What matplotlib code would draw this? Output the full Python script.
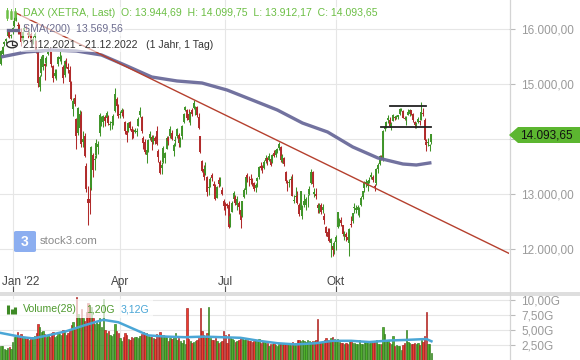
import numpy as np
import pandas as pd
import matplotlib
matplotlib.use("Agg")
import matplotlib.pyplot as plt
import matplotlib.transforms as mtransforms
from matplotlib.patches import Polygon, Rectangle, FancyBboxPatch, Circle
from matplotlib.lines import Line2D
from matplotlib.ticker import FuncFormatter, FixedLocator

plt.rcParams['font.family'] = ['Liberation Sans', 'DejaVu Sans']

# ---------------- data ----------------
dates = pd.bdate_range("2021-12-21", "2022-12-21")
dates = dates.drop(pd.to_datetime(["2021-12-24", "2021-12-31", "2022-04-15", "2022-04-18"]))

opens = [
    15367, 15540, 15725, 15790, 15870, 15960, 15870,
    15990, 16060, 16170, 16060, 16040, 15950, 15790, 15990, 16040, 15930, 15920, 15900, 15800, 15860, 15780, 15580, 14950, 15200, 15300, 15360, 15380,
    15550, 15640, 15560, 15330, 15150, 15190, 15360, 15460, 15420, 15300, 15160, 15400, 15300, 15260, 15030, 14550, 14750, 14360, 14100, 14200,
    14440, 13950, 14050, 13500, 12900, 12900, 13100, 13700, 13610, 13700, 13860, 14100, 14360, 14300, 14400, 14380, 14400, 14260, 14290, 14280, 14500, 14720, 14560,
    14440, 14470, 14490, 14300, 14140, 14150, 14300, 14180, 14140, 14120, 14120, 14240, 14430, 14400, 14020, 13950, 13700, 13820, 14020,
    14040, 13950, 14010, 14150, 13790, 13580, 13470, 13580, 13650, 13820, 14020, 14050, 14100, 13780, 13960, 14050, 14080, 13920, 14050, 14310, 14530, 14520,
    14450, 14300, 14520, 14560, 14540, 14580, 14400, 14050, 13600, 13450, 13380, 13300, 13100, 13150, 13350, 13180, 13100, 12930, 13250, 13200, 13080, 12870,
    12820, 12810, 12800, 12450, 12680, 12900, 12950, 12800, 12840, 12700, 12600, 12950, 13080, 13350, 13260, 13280, 13250, 13200, 13100, 13230, 13300,
    13500, 13450, 13480, 13600, 13650, 13620, 13640, 13580, 13750, 13700, 13780, 13830, 13860, 13600, 13650, 13400, 13200, 13200, 13260, 13280, 12870, 12950, 12960,
    12800, 12700, 12600, 12800, 12800, 12900, 13000, 13200, 13400, 13000, 13000, 12800, 12700, 12800, 12700, 12600, 12400, 12300, 12250, 12100, 12050, 12000,
    12120, 12400, 12500, 12520, 12430, 12250, 12270, 12220, 12100, 12450, 12500, 12750, 12700, 12700, 12720, 12800, 12950, 13100, 13200, 13150, 13240,
    13300, 13300, 13150, 13200, 13450, 13550, 13670, 13620, 14180, 14250, 14350, 14340, 14200, 14330, 14390, 14380, 14400, 14450, 14520, 14500, 14380, 14350,
    14440, 14450, 14520, 14450, 14310, 14250, 14300, 14330, 14350, 14480, 14350, 13950, 13920, 13880, 13944.69,
]
highs = [
    15620, 15690, 15780, 15840, 15995, 15990, 15915,
    16030, 16210, 16285, 16130, 16090, 16020, 15960, 16090, 16080, 15990, 15960, 15950, 15880, 15950, 15800, 15620, 15160, 15500, 15530, 15390, 15500,
    15660, 15680, 15600, 15340, 15280, 15280, 15500, 15600, 15530, 15350, 15430, 15470, 15380, 15320, 15060, 14750, 14810, 14380, 14590, 14520,
    14500, 14150, 14100, 13560, 13140, 13300, 13870, 13750, 13700, 14000, 13970, 14480, 14420, 14430, 14430, 14510, 14430, 14330, 14340, 14450, 14925, 14760, 14630,
    14510, 14560, 14550, 14330, 14180, 14310, 14330, 14240, 14180, 14200, 14200, 14400, 14590, 14420, 14060, 14000, 13860, 14000, 14150,
    14080, 14070, 14060, 14240, 13810, 13610, 13590, 13880, 13760, 14050, 14050, 14240, 14170, 13930, 14050, 14200, 14100, 14040, 14250, 14470, 14600, 14550,
    14550, 14490, 14560, 14700, 14600, 14600, 14480, 14060, 13610, 13530, 13580, 13330, 13200, 13300, 13390, 13230, 13190, 13150, 13300, 13300, 13130, 12910,
    12850, 12840, 12880, 12660, 12870, 13050, 12990, 12960, 12880, 12720, 12870, 13100, 13320, 13380, 13330, 13370, 13290, 13220, 13200, 13300, 13510,
    13590, 13520, 13620, 13700, 13680, 13740, 13660, 13730, 13800, 13810, 13840, 13948, 13870, 13720, 13670, 13420, 13250, 13270, 13330, 13370, 12980, 13120, 13050,
    12840, 13050, 12800, 13000, 12950, 13000, 13140, 13460, 13420, 13100, 13100, 12830, 12830, 12840, 12820, 12650, 12420, 12390, 12380, 12200, 12080, 12140,
    12250, 12680, 12560, 12590, 12440, 12330, 12300, 12280, 12380, 12600, 12660, 12830, 12800, 12800, 12770, 12960, 13060, 13240, 13280, 13260, 13300,
    13400, 13350, 13180, 13480, 13560, 13700, 13700, 14160, 14290, 14330, 14440, 14400, 14300, 14450, 14420, 14430, 14440, 14560, 14560, 14530, 14420, 14410,
    14550, 14540, 14530, 14470, 14320, 14300, 14400, 14350, 14675, 14560, 14380, 14000, 14010, 13900, 14099.75,
]
lows = [
    15350, 15520, 15690, 15740, 15860, 15840, 15830,
    15910, 16030, 16140, 15900, 15900, 15690, 15750, 15960, 15980, 15830, 15880, 15740, 15730, 15780, 15560, 14950, 14880, 15150, 15250, 15070, 15330,
    15520, 15560, 15310, 15030, 15110, 15080, 15330, 15410, 15370, 15010, 15130, 15290, 15200, 15000, 14700, 14420, 14600, 13810, 14080, 14150,
    13850, 13850, 13680, 13040, 12440, 12630, 13080, 13300, 13440, 13650, 13720, 14060, 14240, 14220, 14230, 14300, 14250, 14170, 14190, 14260, 14490, 14570, 14390,
    14380, 14420, 14390, 14090, 13950, 14130, 14160, 14000, 14010, 14100, 14060, 14230, 14400, 14110, 13820, 13720, 13570, 13760, 13990,
    13800, 13900, 13900, 13890, 13580, 13370, 13360, 13560, 13560, 13810, 13890, 14020, 13990, 13690, 13870, 14010, 13860, 13850, 14000, 14290, 14500, 14340,
    14300, 14260, 14420, 14540, 14430, 14400, 14180, 13750, 13400, 13260, 13340, 12960, 12990, 13120, 13230, 12990, 12890, 12920, 13120, 13150, 12990, 12700,
    12620, 12740, 12390, 12400, 12670, 12860, 12800, 12710, 12630, 12390, 12590, 12930, 13000, 13220, 13150, 13180, 13150, 13050, 13040, 13130, 13280,
    13440, 13380, 13450, 13560, 13520, 13600, 13500, 13560, 13670, 13680, 13740, 13800, 13590, 13560, 13510, 13200, 13050, 13130, 13200, 12960, 12830, 12940, 12820,
    12600, 12690, 12550, 12760, 12700, 12770, 12980, 13180, 13130, 12950, 12910, 12650, 12660, 12630, 12650, 12460, 12240, 12180, 12130, 11860, 11880, 11910,
    11990, 12390, 12420, 12420, 12230, 12170, 12140, 12140, 11870, 12400, 12470, 12650, 12650, 12620, 12590, 12780, 12900, 13040, 13120, 13060, 13200,
    13270, 13220, 13050, 13170, 13380, 13530, 13610, 13600, 14150, 14200, 14290, 14220, 14170, 14320, 14340, 14360, 14370, 14430, 14500, 14380, 14340, 14250,
    14430, 14420, 14430, 14310, 14200, 14200, 14290, 14250, 14340, 14420, 13960, 13790, 13880, 13790, 13912.17,
]
closes = [
    15593, 15676, 15756, 15822, 15964, 15852, 15885,
    16021, 16152, 16271, 16052, 15948, 15768, 15942, 16010, 16031, 15883, 15933, 15772, 15810, 15912, 15603, 15011, 15123, 15460, 15524, 15318, 15471,
    15619, 15613, 15368, 15100, 15207, 15242, 15482, 15490, 15425, 15113, 15412, 15370, 15267, 15042, 14731, 14693, 14631, 14052, 14567, 14461,
    13905, 14000, 13698, 13094, 12834, 12831, 13848, 13442, 13628, 13929, 13917, 14441, 14388, 14413, 14326, 14473, 14284, 14274, 14306, 14418, 14821, 14605, 14415,
    14446, 14518, 14424, 14152, 14078, 14284, 14193, 14124, 14076, 14164, 14153, 14362, 14502, 14142, 13924, 13757, 13796, 13979, 14098,
    13939, 14040, 13970, 13903, 13674, 13380, 13534, 13828, 13739, 14027, 13964, 14185, 14008, 13882, 13981, 14176, 13919, 14008, 14231, 14462, 14575, 14388,
    14340, 14485, 14460, 14653, 14556, 14445, 14199, 13761, 13427, 13304, 13483, 13038, 13126, 13265, 13292, 13145, 12912, 13118, 13186, 13231, 13003, 12784,
    12813, 12773, 12401, 12594, 12843, 13015, 12832, 12905, 12756, 12519, 12864, 13071, 13308, 13282, 13246, 13254, 13210, 13096, 13166, 13282, 13484,
    13479, 13449, 13587, 13662, 13574, 13688, 13535, 13700, 13694, 13795, 13816, 13910, 13626, 13697, 13544, 13231, 13194, 13220, 13271, 12971, 12893, 12961, 12835,
    12631, 13050, 12761, 12871, 12916, 12904, 13088, 13403, 13189, 13028, 12956, 12741, 12803, 12671, 12767, 12531, 12284, 12227, 12140, 12183, 11976, 12114,
    12209, 12671, 12517, 12471, 12273, 12272, 12220, 12172, 12356, 12438, 12649, 12765, 12741, 12767, 12731, 12931, 13052, 13195, 13211, 13243, 13253,
    13338, 13257, 13130, 13460, 13533, 13688, 13666, 14146, 14224, 14313, 14379, 14234, 14266, 14431, 14379, 14422, 14428, 14539, 14541, 14383, 14356, 14397,
    14490, 14529, 14447, 14343, 14261, 14264, 14371, 14306, 14497, 14460, 13987, 13894, 13943, 13885, 14093.65,
]
volumes = [  # in G
    2.4, 2.3, 1.9, 1.6, 2.0, 2.2, 1.8,
    3.0, 3.8, 4.2, 4.6, 4.0, 4.3, 3.7, 3.9, 3.5, 3.8, 3.4, 3.6, 3.9, 4.0, 4.5, 6.0, 5.5, 4.6, 4.8, 4.4, 3.9,
    4.2, 3.9, 4.5, 4.7, 3.8, 4.0, 4.3, 4.4, 4.2, 5.0, 4.8, 4.2, 4.5, 5.0, 5.8, 6.3, 5.2, 10.5, 7.6, 7.0,
    8.5, 7.0, 6.5, 8.0, 9.5, 9.0, 8.8, 7.0, 6.0, 6.5, 6.0, 7.0, 5.5, 10.2, 5.0, 4.5, 4.8, 4.2, 4.0, 4.3, 6.0, 4.8, 4.5,
    3.6, 3.2, 3.8, 4.5, 4.2, 3.5, 3.3, 3.8, 3.6, 3.9, 3.8, 3.7, 4.0, 4.4, 4.6, 4.4, 4.5, 4.0, 3.9,
    3.8, 3.7, 3.5, 4.4, 4.2, 4.6, 4.1, 4.2, 4.0, 3.8, 3.2, 3.6, 3.5, 4.0, 4.5, 3.3, 3.6, 3.2, 2.8, 3.4, 2.6, 8.7,
    3.5, 3.2, 2.9, 3.0, 3.1, 3.3, 3.6, 8.6, 4.8, 4.2, 4.0, 4.5, 8.9, 3.6, 3.3, 3.4, 3.6, 3.1, 2.9, 3.0, 3.2, 4.8,
    4.2, 2.8, 4.3, 3.8, 3.5, 3.4, 3.0, 3.2, 3.3, 3.8, 3.6, 3.3, 3.6, 3.4, 3.1, 3.2, 3.0, 3.2, 3.3, 3.4, 3.5,
    2.9, 3.0, 3.1, 2.9, 2.8, 2.4, 2.6, 2.7, 2.8, 2.5, 2.3, 2.6, 2.8, 2.6, 2.7, 2.9, 2.8, 2.6, 2.5, 3.0, 2.7, 2.9, 3.3,
    3.3, 3.2, 3.4, 3.2, 3.0, 3.3, 3.2, 3.0, 3.1, 3.2, 3.3, 6.9, 2.8, 2.9, 3.2, 3.4, 3.7, 3.3, 3.2, 3.6, 3.8, 3.5,
    3.0, 3.5, 3.0, 2.8, 2.9, 2.6, 2.8, 2.7, 3.3, 3.1, 2.8, 2.9, 2.7, 2.6, 3.3, 2.6, 2.7, 3.0, 3.1, 3.0, 2.9,
    2.9, 2.8, 3.0, 3.3, 2.7, 2.6, 2.6, 5.5, 4.4, 3.2, 3.3, 2.8, 2.6, 4.0, 2.4, 2.5, 2.3, 2.4, 1.7, 2.5, 2.8, 5.0,
    3.0, 2.9, 2.6, 2.7, 2.8, 2.6, 2.9, 2.5, 3.4, 3.0, 4.0, 8.0, 2.7, 2.6, 1.2,
]

sma_idx = [0, 15, 30, 45, 60, 75, 90, 105, 120, 135, 150, 165, 180, 195, 210, 225, 240, 248, 257]
sma_val = [15491, 15582, 15618, 15600, 15527, 15330, 15127, 15055, 15018, 14890, 14709, 14527,
           14290, 14127, 13855, 13655, 13545, 13527, 13569.56]

# Volume moving average (28)
vma_idx = [0, 13, 19, 28, 39, 50, 61, 70, 79, 88, 99, 110, 121, 132, 143, 154, 165, 176, 188,
           198, 209, 220, 232, 242, 254, 257]
vma_val = [4.5, 3.8, 3.6, 4.1, 4.8, 5.8, 6.7, 6.3, 5.2, 4.1, 3.9, 3.8, 3.9, 3.8, 3.7, 3.2, 2.8,
           2.6, 2.8, 3.2, 3.2, 3.0, 3.25, 3.35, 3.5, 3.12]

# drawn trend line (start at Jan high, end at right edge) and channel lines
trend_idx = [9, 303.3]
trend_val = [16290, 11920]
chan_upper = ([232, 254], 14592)
chan_lower = ([227, 257], 14224)

price_ticks = [12000, 13000, 14000, 15000, 16000]
vol_ticks = [2.5, 5.0, 7.5, 10.0]
month_labels = ["Jan '22", "Apr", "Jul", "Okt"]
month_starts = ["2022-01-03", "2022-04-01", "2022-07-01", "2022-10-03"]

legend_main = "DAX (XETRA, Last)  O: 13.944,69  H: 14.099,75  L: 13.912,17  C: 14.093,65"
legend_sma = "SMA(200)  13.569,56"
legend_date = "21.12.2021 - 21.12.2022   (1 Jahr, 1 Tag)"
last_label = "14.093,65"

n = len(dates)
assert len(opens) == len(highs) == len(lows) == len(closes) == len(volumes) == n, \
    (n, len(opens), len(highs), len(lows), len(closes), len(volumes))

o = np.array(opens, float); h = np.array(highs, float)
l = np.array(lows, float); c = np.array(closes, float)
v = np.array(volumes, float)
x = np.arange(n)
tick_pos = [int(np.where(dates == pd.Timestamp(d))[0][0]) for d in month_starts]

# ---------------- figure ----------------
W, H = 580, 360
fig = plt.figure(figsize=(W / 100, H / 100), dpi=100)
fig.patch.set_facecolor('white')

def fx(px): return px / W
def fy(py): return 1 - py / H

PLOT_R = 509
MAIN_BOTTOM = 292
VOL_TOP = 296

ax = fig.add_axes([0, fy(MAIN_BOTTOM), fx(PLOT_R), MAIN_BOTTOM / H])
axv = fig.add_axes([0, 0, fx(PLOT_R), (H - VOL_TOP) / H])

xlim = (-0.6, 303.3)
grid_c = '#e6e6e6'
label_c = '#9a9a9a'
FS = 8.5

def de_fmt(val, dec=2):
    s = f"{val:,.{dec}f}"
    return s.replace(',', 'X').replace('.', ',').replace('X', '.')

green_c = '#3e9428'
red_c = '#b02a2a'
up = c >= o
cols = np.where(up, green_c, red_c)

for a in (ax, axv):
    a.set_xlim(*xlim)
    for s in a.spines.values():
        s.set_visible(False)
    a.set_facecolor('white')
    a.xaxis.set_major_locator(FixedLocator(tick_pos))
    a.grid(True, axis='both', color=grid_c, lw=0.8, zorder=0)
    a.set_axisbelow(True)
    a.yaxis.tick_right()
    a.tick_params(axis='y', length=4, width=0.8, color='#bbbbbb', pad=5,
                  labelsize=FS, labelcolor=label_c)

# main price panel
ax.set_ylim(11218, 16527)
ax.set_yticks(price_ticks)
# the 14.000 label sits under the last-price tag in the reference
ax.yaxis.set_major_formatter(FuncFormatter(lambda val, p: '' if abs(val - 14000) < 1 else de_fmt(val)))
ax.tick_params(axis='x', direction='in', length=4, width=0.8, color='#555555', labelbottom=False)

ax.vlines(x, l, h, colors=cols, lw=0.75, zorder=3)
body_lo = np.minimum(o, c)
body_hi = np.maximum(o, c)
body_hi = np.where(body_hi - body_lo < 12, body_lo + 12, body_hi)
ax.vlines(x, body_lo, body_hi, colors=cols, lw=1.4, zorder=3)

ax.plot(sma_idx, sma_val, color='#6a6a9a', lw=2.4, alpha=0.95, zorder=4, solid_capstyle='butt')
ax.plot(trend_idx, trend_val, color='#b5402e', lw=1.0, zorder=4)
ax.plot(chan_upper[0], [chan_upper[1]] * 2, color='#222222', lw=1.3, zorder=5)
ax.plot(chan_lower[0], [chan_lower[1]] * 2, color='#222222', lw=1.3, zorder=5)

btr = mtransforms.blended_transform_factory(ax.transData, ax.transAxes)
label_y = (MAIN_BOTTOM - 282) / MAIN_BOTTOM
for i, (pos, lab) in enumerate(zip(tick_pos, month_labels)):
    if i == 0:
        ax.text(0.6, label_y, lab, transform=btr, ha='left', va='center', fontsize=FS, color='#444444')
    else:
        ax.text(pos, label_y, lab, transform=btr, ha='center', va='center', fontsize=FS, color='#444444')

# volume panel
axv.set_ylim(0, 10.67)
axv.set_yticks(vol_ticks)
axv.yaxis.set_major_formatter(FuncFormatter(lambda val, p: de_fmt(val) + "G"))
axv.tick_params(axis='x', length=0, labelbottom=False)
fill = np.where(up, '#4fae2c', '#ee3b2e')
edge = np.where(up, '#2f7a1a', '#a01e1e')
axv.bar(x, v, width=0.8, color=fill, edgecolor=edge, linewidth=0.45, zorder=3)
axv.plot(vma_idx, vma_val, color='#4aa6d6', lw=1.8, zorder=4)

# ---------------- figure-level decorations ----------------
fig.add_artist(Rectangle((0, fy(296)), 1, 4 / H, transform=fig.transFigure,
                         facecolor='#dedede', edgecolor='none', zorder=6))
fig.add_artist(Line2D([fx(PLOT_R + 0.5)] * 2, [0, 1], transform=fig.transFigure,
                      color='#d4d4d4', lw=0.9, zorder=6))

# last price tag
tag_pts = [(PLOT_R, 135), (PLOT_R + 9, 127), (W, 127), (W, 143), (PLOT_R + 9, 143)]
fig.add_artist(Polygon([(fx(px), fy(py)) for px, py in tag_pts], closed=True,
                       transform=fig.transFigure, facecolor='#5cb630', edgecolor='none', zorder=7))
fig.text(fx(520), fy(135.5), last_label, ha='left', va='center', fontsize=FS, color='#111111', zorder=8)

# legend rows (top left)
bbox = dict(facecolor='white', alpha=0.6, edgecolor='none', pad=1.2)
fig.text(fx(23), fy(13.5), legend_main, ha='left', va='center', fontsize=7.6, color='#6cbf45',
         bbox=bbox, zorder=8)
fig.text(fx(23), fy(29.5), legend_sma, ha='left', va='center', fontsize=7.6, color='#6b6b8e',
         bbox=bbox, zorder=8)
fig.text(fx(23), fy(45), legend_date, ha='left', va='center', fontsize=7.6, color='#333333',
         bbox=bbox, zorder=8)
# candle icon
for cx, y0, y1, b0, b1 in [(7, 8, 20, 11, 17), (11, 9, 19, 12, 18), (15, 8, 20, 12, 16)]:
    fig.add_artist(Line2D([fx(cx)] * 2, [fy(y0), fy(y1)], transform=fig.transFigure,
                          color='#6cbf45', lw=0.7, zorder=9))
    fig.add_artist(Line2D([fx(cx)] * 2, [fy(b0), fy(b1)], transform=fig.transFigure,
                          color='#6cbf45', lw=1.8, zorder=9))
# sma icon
fig.add_artist(Line2D([fx(8), fx(18)], [fy(29.5)] * 2, transform=fig.transFigure,
                      color='#6b6b8e', lw=2.4, zorder=9))
# clock icon
fig.add_artist(Circle((fx(12), fy(44.5)), 5.3 / W, transform=fig.transFigure, facecolor='white',
                      edgecolor='#333333', lw=1.0, zorder=9))
fig.add_artist(Line2D([fx(12), fx(12), fx(15)], [fy(41), fy(44.5), fy(44.5)], transform=fig.transFigure,
                      color='#333333', lw=0.9, zorder=10))

# volume legend
fig.add_artist(Rectangle((0, fy(318)), fx(153), 19 / H, transform=fig.transFigure,
                         facecolor='white', alpha=0.7, edgecolor='none', zorder=8))
for bx, bt in [(8, 305), (11.5, 309), (15, 307)]:
    fig.add_artist(Line2D([fx(bx)] * 2, [fy(313.5), fy(bt)], transform=fig.transFigure,
                          color='#3e8a25', lw=2.2, solid_capstyle='butt', zorder=9))
fig.text(fx(23), fy(309), "Volume(28)", ha='left', va='center', fontsize=7.6, color='#4e9a2e', zorder=9)
fig.text(fx(86), fy(309), "1,20G", ha='left', va='center', fontsize=7.6, color='#4e9a2e', zorder=9)
fig.text(fx(121), fy(309), "3,12G", ha='left', va='center', fontsize=7.6, color='#4aa6d6', zorder=9)

# stock3 watermark
fig.add_artist(FancyBboxPatch((fx(14), fy(252)), fx(22), 21 / H, boxstyle="round,pad=0,rounding_size=0.004",
                              transform=fig.transFigure, facecolor='#86aaf0', edgecolor='none',
                              alpha=0.95, zorder=7))
fig.text(fx(25), fy(241.5), "3", ha='center', va='center', fontsize=10, color='white',
         fontweight='bold', zorder=8)
fig.text(fx(40), fy(241.5), "stock3.com", ha='left', va='center', fontsize=8.2, color='#8a8a8a', zorder=8)

fig.savefig("out.png", dpi=100, facecolor='white')
